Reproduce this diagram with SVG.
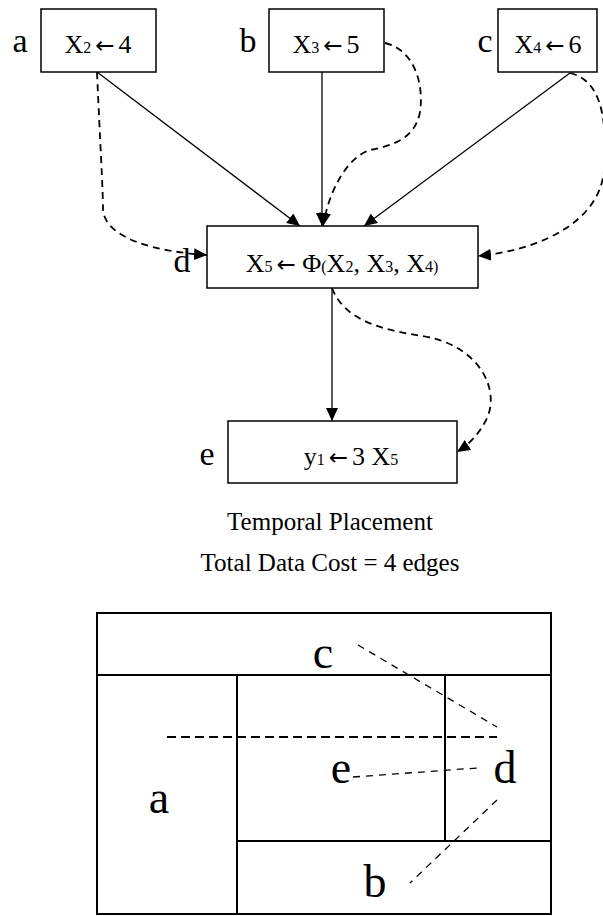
<svg xmlns="http://www.w3.org/2000/svg" width="603" height="916" viewBox="0 0 603 916">
<style>
.box{fill:#fff;stroke:#000;stroke-width:1.5}
.t{font-family:"Liberation Serif","Times New Roman",serif;fill:#000}
.lbl{font-size:34px}
.big{font-size:46px}
.m{font-size:26px}
.s{font-size:16px}
.ar{font-family:"DejaVu Sans",sans-serif;font-size:23px}
.solid{fill:none;stroke:#000;stroke-width:1.3}
.dash{fill:none;stroke:#000;stroke-width:1.8;stroke-dasharray:7,5}
.thin{fill:none;stroke:#000;stroke-width:1.3;stroke-dasharray:7,6}
.thick{fill:none;stroke:#000;stroke-width:2.2;stroke-dasharray:9,5}
.cell{fill:none;stroke:#000;stroke-width:2}
</style>
<defs>
<marker id="ah" markerUnits="userSpaceOnUse" markerWidth="14" markerHeight="12" refX="13" refY="6" orient="auto">
<path d="M0,0 L13,6 L0,12 z" fill="#000"/>
</marker>
</defs>
<g id="connectors">
<line class="solid" x1="97" y1="72" x2="300" y2="226" marker-end="url(#ah)"/>
<line class="solid" x1="322" y1="72" x2="322" y2="226" marker-end="url(#ah)"/>
<line class="solid" x1="570" y1="73" x2="364" y2="226" marker-end="url(#ah)"/>
<line class="solid" x1="332" y1="288" x2="332" y2="421" marker-end="url(#ah)"/>
<path class="dash" d="M97,72 C100,140 103,190 103,210 C106,240 160,252 207,255" marker-end="url(#ah)"/>
<path class="dash" d="M385,43 C415,50 424,85 420,112 C415,140 390,146 370,150 C345,158 328,195 323,226" marker-end="url(#ah)"/>
<path class="dash" d="M570,73 C598,80 608,110 604,170 C600,222 540,250 478,256" marker-end="url(#ah)"/>
<path class="dash" d="M332,288 C345,322 385,330 422,336 C480,345 500,390 487,418 C479,435 468,445 457,452" marker-end="url(#ah)"/>
</g>
<g id="node-a">
<rect class="box" x="41" y="9" width="115" height="63"/>
<text class="t lbl" x="20" y="52" text-anchor="middle">a</text>
<text class="t" x="98" y="53" text-anchor="middle"><tspan class="m">X</tspan><tspan class="s">2 </tspan><tspan class="ar">←</tspan><tspan class="s"> </tspan><tspan class="m">4</tspan></text>
</g>
<g id="node-b">
<rect class="box" x="269" y="9" width="115" height="63"/>
<text class="t lbl" x="248" y="52" text-anchor="middle">b</text>
<text class="t" x="326" y="53" text-anchor="middle"><tspan class="m">X</tspan><tspan class="s">3 </tspan><tspan class="ar">←</tspan><tspan class="s"> </tspan><tspan class="m">5</tspan></text>
</g>
<g id="node-c">
<rect class="box" x="498" y="9" width="99" height="63"/>
<text class="t lbl" x="485" y="52" text-anchor="middle">c</text>
<text class="t" x="548" y="53" text-anchor="middle"><tspan class="m">X</tspan><tspan class="s">4 </tspan><tspan class="ar">←</tspan><tspan class="s"> </tspan><tspan class="m">6</tspan></text>
</g>
<g id="node-d">
<rect class="box" x="207" y="226" width="271" height="62"/>
<text class="t lbl" x="182" y="272" text-anchor="middle">d</text>
<text class="t" x="342" y="272" text-anchor="middle"><tspan class="m">X</tspan><tspan class="s">5 </tspan><tspan class="ar">←</tspan><tspan class="m"> Φ</tspan><tspan class="s">(</tspan><tspan class="m">X</tspan><tspan class="s">2</tspan><tspan class="m">, X</tspan><tspan class="s">3</tspan><tspan class="m">, X</tspan><tspan class="s">4)</tspan></text>
</g>
<g id="node-e">
<rect class="box" x="228" y="421" width="229" height="62"/>
<text class="t lbl" x="207" y="465" text-anchor="middle">e</text>
<text class="t" x="351" y="465" text-anchor="middle"><tspan class="m">y</tspan><tspan class="s">1 </tspan><tspan class="ar">←</tspan><tspan class="s"> </tspan><tspan class="m">3 X</tspan><tspan class="s">5</tspan></text>
</g>
<g id="caption">
<text class="t" x="330" y="530" text-anchor="middle" font-size="25">Temporal Placement</text>
<text class="t" x="330" y="571" text-anchor="middle" font-size="25">Total Data Cost = 4 edges</text>
</g>
<g id="placement">
<rect class="cell" x="97" y="613" width="454" height="301"/>
<line class="cell" x1="97" y1="675" x2="551" y2="675"/>
<line class="cell" x1="237" y1="675" x2="237" y2="914"/>
<line class="cell" x1="445" y1="675" x2="445" y2="841"/>
<line class="cell" x1="237" y1="841" x2="551" y2="841"/>
<line class="thin" x1="358" y1="645" x2="497" y2="727"/>
<line class="thick" x1="167" y1="737" x2="497" y2="737"/>
<line class="thin" x1="353" y1="777" x2="477" y2="768"/>
<line class="thin" x1="497" y1="800" x2="410" y2="883"/>
<text class="t big" x="323" y="668" text-anchor="middle">c</text>
<text class="t big" x="159" y="813" text-anchor="middle">a</text>
<text class="t big" x="341" y="783" text-anchor="middle">e</text>
<text class="t big" x="505" y="783" text-anchor="middle">d</text>
<text class="t big" x="375" y="897" text-anchor="middle">b</text>
</g>
</svg>
